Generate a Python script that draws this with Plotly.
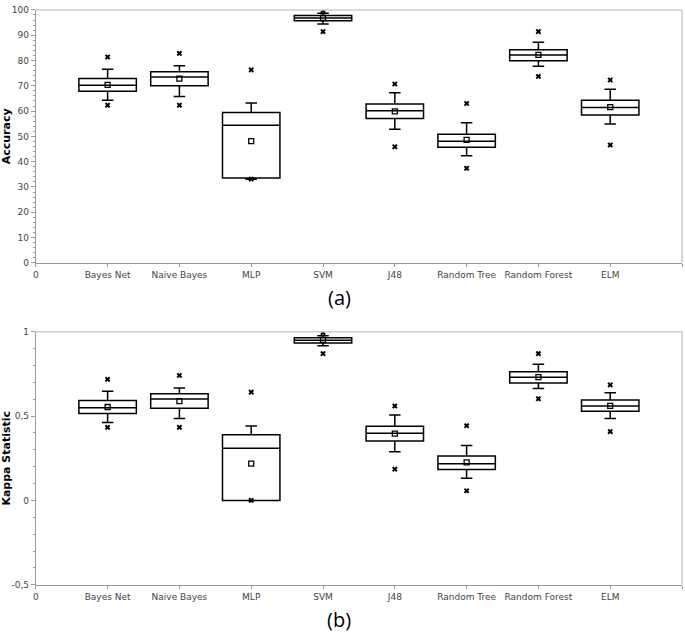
import plotly.graph_objects as go

categories = ["Bayes Net", "Naive Bayes", "MLP", "SVM", "J48", "Random Tree", "Random Forest", "ELM"]
positions = [1, 2, 3, 4, 5, 6, 7, 8]

# Accuracy (a)
acc_lower = [64.3, 65.8, 33.1, 94.4, 52.8, 42.3, 77.7, 54.9]
acc_q1 = [67.8, 70.0, 33.6, 95.7, 57.1, 45.7, 79.9, 58.5]
acc_median = [70.2, 73.5, 54.4, 96.8, 60.1, 48.1, 82.2, 61.4]
acc_q3 = [72.9, 75.6, 59.4, 97.8, 62.8, 50.8, 84.3, 64.3]
acc_upper = [76.5, 77.9, 63.2, 98.7, 67.3, 55.4, 87.2, 68.6]
acc_mean = [70.4, 72.8, 48.1, 96.8, 59.9, 48.6, 82.2, 61.6]
acc_min = [62.3, 62.3, 33.1, 91.4, 45.9, 37.4, 73.7, 46.6]
acc_max = [81.4, 82.8, 76.3, 99.7, 70.7, 63.0, 91.4, 72.3]

# Kappa statistic (b)
kap_lower = [0.462, 0.486, 0.0, 0.917, 0.289, 0.131, 0.663, 0.486]
kap_q1 = [0.515, 0.546, 0.0, 0.934, 0.353, 0.183, 0.696, 0.529]
kap_median = [0.550, 0.601, 0.310, 0.950, 0.398, 0.218, 0.731, 0.560]
kap_q3 = [0.593, 0.632, 0.390, 0.965, 0.439, 0.263, 0.763, 0.595]
kap_upper = [0.648, 0.667, 0.441, 0.977, 0.507, 0.326, 0.807, 0.638]
kap_mean = [0.554, 0.589, 0.218, 0.952, 0.396, 0.226, 0.731, 0.560]
kap_min = [0.433, 0.433, 0.0, 0.870, 0.185, 0.057, 0.603, 0.408]
kap_max = [0.718, 0.741, 0.642, 0.995, 0.560, 0.443, 0.870, 0.685]

acc_ticks = [0, 10, 20, 30, 40, 50, 60, 70, 80, 90, 100]
kap_ticks = [-0.5, 0, 0.5, 1]
kap_ticktext = ["-0,5", "0", "0,5", "1"]

W, H = 685, 635
fig = go.Figure()

def add_panel(xa, ya, lower, q1, med, q3, upper, mean, mn, mx):
    fig.add_trace(go.Box(
        x=positions, q1=q1, median=med, q3=q3, lowerfence=lower, upperfence=upper,
        width=0.8, whiskerwidth=0.2, fillcolor="white",
        line=dict(color="black", width=1.5), boxpoints=False,
        xaxis=xa, yaxis=ya, showlegend=False, hoverinfo="skip"))
    fig.add_trace(go.Scatter(
        x=positions + positions, y=mn + mx, mode="markers",
        marker=dict(symbol="x", size=5, color="black", line=dict(width=0)),
        xaxis=xa, yaxis=ya, showlegend=False))
    fig.add_trace(go.Scatter(
        x=positions, y=mean, mode="markers",
        marker=dict(symbol="square-open", size=5, color="black", line=dict(width=1.3)),
        xaxis=xa, yaxis=ya, showlegend=False))

add_panel("x", "y", acc_lower, acc_q1, acc_median, acc_q3, acc_upper, acc_mean, acc_min, acc_max)
add_panel("x2", "y2", kap_lower, kap_q1, kap_median, kap_q3, kap_upper, kap_mean, kap_min, kap_max)

xd = [32 / W, 682 / W]
top_dom = [(H - 262) / H, (H - 5) / H]
bot_dom = [(H - 589) / H, (H - 332) / H]

tickfont = dict(family="DejaVu Sans", size=9, color="#444")
xcommon = dict(
    range=[0, 9], tickmode="array", tickvals=[0] + positions + [9],
    ticktext=["0"] + categories + [""], ticks="outside", ticklen=3, tickcolor="#999",
    showline=True, linecolor="#999", linewidth=1, showgrid=False, zeroline=False,
    tickfont=tickfont, domain=xd, fixedrange=True)

fig.update_layout(
    width=W, height=H, margin=dict(l=0, r=0, t=0, b=0),
    plot_bgcolor="white", paper_bgcolor="white",
    xaxis=dict(anchor="y", **xcommon),
    xaxis2=dict(anchor="y2", **xcommon),
    yaxis=dict(domain=top_dom, range=[0, 100], tickmode="array", tickvals=acc_ticks,
               ticks="outside", ticklen=4, tickcolor="#999", showline=True, linecolor="#999",
               showgrid=False, zeroline=False, tickfont=tickfont, anchor="x",
               minor=dict(dtick=2, ticks="outside", ticklen=2, tickcolor="#999"),
               title=dict(text="<b>Accuracy</b>", font=dict(family="DejaVu Sans", size=11, color="black"), standoff=4)),
    yaxis2=dict(domain=bot_dom, range=[-0.5, 1], tickmode="array", tickvals=kap_ticks,
                ticktext=kap_ticktext,
                ticks="outside", ticklen=4, tickcolor="#999", showline=True, linecolor="#999",
                showgrid=False, zeroline=False, tickfont=tickfont, anchor="x2",
                minor=dict(dtick=0.1, ticks="outside", ticklen=2, tickcolor="#999"),
                title=dict(text="<b>Kappa Statistic</b>", font=dict(family="DejaVu Sans", size=11, color="black"), standoff=4)),
)

# light frame on top and right of each plot area
for xr, yr in [("x domain", "y domain"), ("x2 domain", "y2 domain")]:
    fig.add_shape(type="line", xref=xr, yref=yr, x0=0, x1=1, y0=1, y1=1,
                  line=dict(color="#ccc", width=1.5))
    fig.add_shape(type="line", xref=xr, yref=yr, x0=1, x1=1, y0=0, y1=1,
                  line=dict(color="#ccc", width=1.5))

fig.add_annotation(text="(a)", x=337 / W, y=(H - 297) / H, xref="paper", yref="paper",
                   xanchor="center", yanchor="middle",
                   showarrow=False, font=dict(family="Open Sans", size=20, color="black"))
fig.add_annotation(text="(b)", x=337 / W, y=(H - 624) / H, xref="paper", yref="paper",
                   xanchor="center", yanchor="middle",
                   showarrow=False, font=dict(family="Open Sans", size=20, color="black"))

fig.write_html("out.html", config={"displayModeBar": False},
               post_script="document.body.style.margin='0';document.body.style.overflow='hidden';")
